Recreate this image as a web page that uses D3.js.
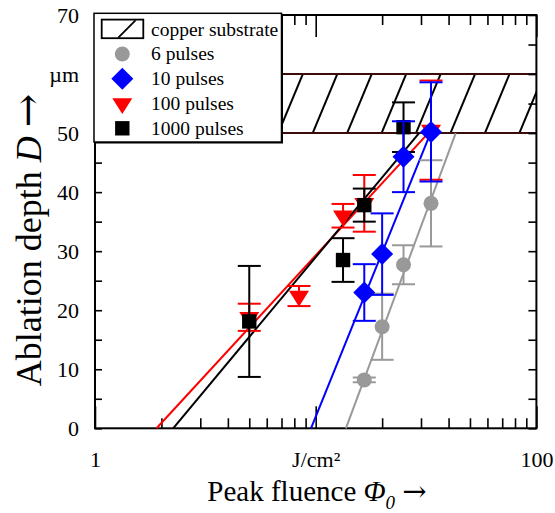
<!DOCTYPE html>
<html>
<head>
<meta charset="utf-8">
<script src="https://cdn.jsdelivr.net/npm/d3@7"></script>
<style>
  body { margin: 0; background: #fff; }
  svg { display: block; }
  text { font-family: "Liberation Serif", "Times New Roman", serif; fill: #000; }
</style>
</head>
<body>
<svg id="chart" width="555" height="513"></svg>
<script>
// Measured ablation depth (µm) versus peak fluence (J/cm²) for each pulse count
const fluence6 = [16.6, 20.0, 25.0, 33.3];
const depth6 = [8.2, 17.2, 27.7, 38.1];
const err6 = [0.4, 5.6, 3.3, 7.3];

const fluence10 = [16.6, 20.0, 25.0, 33.3];
const depth10 = [23.0, 29.5, 46.0, 50.2];
const err10 = [4.8, 6.9, 6.0, 8.4];

const fluence100 = [5.0, 8.4, 13.3, 16.6, 33.3];
const depth100 = [18.8, 22.4, 36.0, 38.1, 50.5];
const err100 = [2.3, 1.7, 2.0, 4.8, 8.4];

const fluence1000 = [5.0, 13.3, 16.6, 25.0];
const depth1000 = [18.1, 28.5, 37.8, 51.0];
const err1000 = [9.4, 3.7, 2.8, 4.2];

// Logarithmic fits: [fluence, depth] from the threshold fluence up to the substrate
const fit6 = [[13.7, 0], [43.1, 50]];
const fit10 = [[9.52, 0], [33.3, 50.2]];
const fit100 = [[1.90, 0], [33.3, 50.5]];
const fit1000 = [[2.26, 0], [29.4, 50]];

// Copper substrate layer (depth range, µm)
const substrate = [50, 60];

// Axis ticks and labels
const xMajorTicks = [1, 10, 100];
const xMinorTicks = [2, 3, 4, 5, 6, 7, 8, 9, 20, 30, 40, 50, 60, 70, 80, 90];
const xTickLabels = ["1", "J/cm²", "100"];
const yTicks = [0, 5, 10, 15, 20, 25, 30, 35, 40, 45, 50, 55, 60, 65, 70];
const yLabelTicks = [0, 10, 20, 30, 40, 50, 60, 70];
const yTickLabels = ["0", "10", "20", "30", "40", "50", "µm", "70"];

const legendLabels = ["copper substrate", "6 pulses", "10 pulses", "100 pulses", "1000 pulses"];

const SERIF = '"Liberation Serif", "Times New Roman", serif';
const svg = d3.select("#chart");
const L = 95, R = 536.4, T = 15, B = 428.3;

const x = d3.scaleLog().domain([1, 100]).range([L, R]);
const y = d3.scaleLinear().domain([0, 70]).range([B, T]);

// ---- substrate band with hatching ----
const defs = svg.append("defs");
const hatchGap = 31.8;
const pat = defs.append("pattern")
  .attr("id", "hatch")
  .attr("patternUnits", "userSpaceOnUse")
  .attr("width", hatchGap).attr("height", 20)
  .attr("patternTransform", `translate(312.7,${y(substrate[0])}) rotate(22.6)`);
pat.append("line")
  .attr("x1", 0).attr("y1", -5).attr("x2", 0).attr("y2", 25)
  .attr("stroke", "#000").attr("stroke-width", 2);
pat.append("line")
  .attr("x1", hatchGap).attr("y1", -5).attr("x2", hatchGap).attr("y2", 25)
  .attr("stroke", "#000").attr("stroke-width", 2);

svg.append("rect")
  .attr("x", x(1)).attr("y", y(substrate[1]))
  .attr("width", x(100) - x(1)).attr("height", y(substrate[0]) - y(substrate[1]))
  .attr("fill", "url(#hatch)");
svg.selectAll("line.band").data(substrate).join("line")
  .attr("class", "band")
  .attr("x1", x(1)).attr("x2", x(100))
  .attr("y1", d => y(d)).attr("y2", d => y(d))
  .attr("stroke", "#3a0c0c").attr("stroke-width", 2);

// ---- frame and ticks ----
function styleAxis(g) {
  g.select(".domain").remove();
  g.attr("font-family", null);
  g.selectAll(".tick line").attr("stroke", "#000").attr("stroke-width", 1.6);
}
svg.append("g").attr("transform", `translate(0,${B})`)
  .call(d3.axisBottom(x).tickValues(xMinorTicks).tickSize(-10).tickFormat(""))
  .call(styleAxis);
svg.append("g").attr("transform", `translate(0,${B})`)
  .call(d3.axisBottom(x).tickValues(xMajorTicks).tickSize(-22).tickPadding(23)
    .tickFormat((d, i) => xTickLabels[i]))
  .call(styleAxis)
  .call(g => g.selectAll("text").attr("font-size", 22).attr("fill", "#000").style("font-family", SERIF));
svg.append("g").attr("transform", `translate(0,${T})`)
  .call(d3.axisTop(x).tickValues(xMinorTicks).tickSize(-10).tickFormat(""))
  .call(styleAxis);
svg.append("g").attr("transform", `translate(0,${T})`)
  .call(d3.axisTop(x).tickValues(xMajorTicks).tickSize(-22).tickFormat(""))
  .call(styleAxis);

svg.append("g").attr("transform", `translate(${L},0)`)
  .call(d3.axisLeft(y).tickValues(yTicks).tickSize(-7).tickFormat(""))
  .call(styleAxis);
svg.append("g").attr("transform", `translate(${L},0)`)
  .call(d3.axisLeft(y).tickValues(yLabelTicks).tickSize(0).tickPadding(16)
    .tickFormat((d, i) => yTickLabels[i]))
  .call(styleAxis)
  .call(g => g.selectAll("text").attr("font-size", 22).attr("fill", "#000").style("font-family", SERIF));
svg.append("g").attr("transform", `translate(${R},0)`)
  .call(d3.axisRight(y).tickValues(yTicks).tickSize(-8).tickFormat(""))
  .call(styleAxis);

svg.append("rect")
  .attr("x", L).attr("y", T).attr("width", R - L).attr("height", B - T)
  .attr("fill", "none").attr("stroke", "#000").attr("stroke-width", 2);

// ---- fit lines ----
const line = d3.line().x(d => x(d[0])).y(d => y(d[1]));
const fits = [
  { pts: fit6, color: "#999999" },
  { pts: fit10, color: "#0000ff" },
  { pts: fit100, color: "#ff0000" },
  { pts: fit1000, color: "#000000" }
];
svg.selectAll("path.fit").data(fits).join("path")
  .attr("class", "fit")
  .attr("d", d => line(d.pts))
  .attr("fill", "none").attr("stroke", d => d.color).attr("stroke-width", 2);

// ---- marker shapes ----
const shapes = {
  diamond: "M0,-11L11,0L0,11L-11,0Z",
  triangle: "M-10,-5.3L10,-5.3L0,10.6Z",
  square: "M-7.2,-7.2H7.2V7.2H-7.2Z"
};

const series = [
  { fx: fluence6, dy: depth6, err: err6, color: "#999999", shape: "circle" },
  { fx: fluence100, dy: depth100, err: err100, color: "#ff0000", shape: "triangle" },
  { fx: fluence1000, dy: depth1000, err: err1000, color: "#000000", shape: "square" },
  { fx: fluence10, dy: depth10, err: err10, color: "#0000ff", shape: "diamond" }
];

const cap = 11.5;
series.forEach(s => {
  const pts = s.fx.map((f, i) => ({ f, d: s.dy[i], e: s.err[i] }));
  const g = svg.append("g");
  const eb = g.selectAll("g.eb").data(pts).join("g").attr("class", "eb")
    .attr("stroke", s.color).attr("stroke-width", 2);
  eb.append("line")
    .attr("x1", p => x(p.f)).attr("x2", p => x(p.f))
    .attr("y1", p => y(p.d - p.e)).attr("y2", p => y(p.d + p.e));
  eb.append("line")
    .attr("x1", p => x(p.f) - cap).attr("x2", p => x(p.f) + cap)
    .attr("y1", p => y(p.d + p.e)).attr("y2", p => y(p.d + p.e));
  eb.append("line")
    .attr("x1", p => x(p.f) - cap).attr("x2", p => x(p.f) + cap)
    .attr("y1", p => y(p.d - p.e)).attr("y2", p => y(p.d - p.e));
  if (s.shape === "circle") {
    g.selectAll("circle").data(pts).join("circle")
      .attr("cx", p => x(p.f)).attr("cy", p => y(p.d)).attr("r", 7.5)
      .attr("fill", s.color);
  } else {
    g.selectAll("path.mk").data(pts).join("path").attr("class", "mk")
      .attr("transform", p => `translate(${x(p.f)},${y(p.d)})`)
      .attr("d", shapes[s.shape])
      .attr("fill", s.color);
  }
});

// ---- legend ----
const lg = svg.append("g");
lg.append("rect").attr("x", 95.5).attr("y", 14.8).attr("width", 187.5).attr("height", 128.7)
  .attr("fill", "#000");
lg.append("rect").attr("x", 94).attr("y", 13.3).attr("width", 187.5).attr("height", 128.7)
  .attr("fill", "#fff").attr("stroke", "#000").attr("stroke-width", 1.5);
const rowY = [29.5, 54, 78.8, 103.5, 128.3];
lg.append("rect").attr("x", 101.7).attr("y", 19.6).attr("width", 41.6).attr("height", 18.6)
  .attr("fill", "#fff").attr("stroke", "#000").attr("stroke-width", 1.8);
lg.append("line").attr("x1", 118.3).attr("y1", 37.6).attr("x2", 135.5).attr("y2", 20.4)
  .attr("stroke", "#000").attr("stroke-width", 1.8);
const legendSeries = [series[0], series[3], series[1], series[2]];
legendSeries.forEach((s, i) => {
  const cy = rowY[i + 1];
  if (s.shape === "circle") {
    lg.append("circle").attr("cx", 122.3).attr("cy", cy).attr("r", 7.5).attr("fill", s.color);
  } else {
    lg.append("path").attr("transform", `translate(122.3,${cy})`)
      .attr("d", shapes[s.shape]).attr("fill", s.color);
  }
});
lg.selectAll("text").data(legendLabels).join("text")
  .attr("x", 151).attr("y", (d, i) => rowY[i]).attr("dy", "0.33em")
  .attr("font-size", 19.5).style("font-family", SERIF).text(d => d);

// ---- axis titles ----
const xt = svg.append("text").attr("x", 317).attr("y", 501)
  .attr("text-anchor", "middle").attr("font-size", 29).style("font-family", SERIF);
xt.append("tspan").text("Peak fluence ");
xt.append("tspan").attr("font-style", "italic").text("Φ");
xt.append("tspan").attr("font-style", "italic").attr("font-size", 19).attr("dy", 8).text("0");
xt.append("tspan").attr("dy", -8).text(" ");
xt.append("tspan").style("font-family", "DejaVu Serif").attr("font-weight", 300).text("→");

const yt = svg.append("text")
  .attr("transform", "translate(41,240) rotate(-90)")
  .attr("text-anchor", "middle").attr("font-size", 36).style("font-family", SERIF);
yt.append("tspan").text("Ablation depth ");
yt.append("tspan").attr("font-style", "italic").text("D");
yt.append("tspan").text(" ");
yt.append("tspan").style("font-family", "DejaVu Serif").attr("font-weight", 300).attr("font-size", 40).text("→");
</script>
</body>
</html>
